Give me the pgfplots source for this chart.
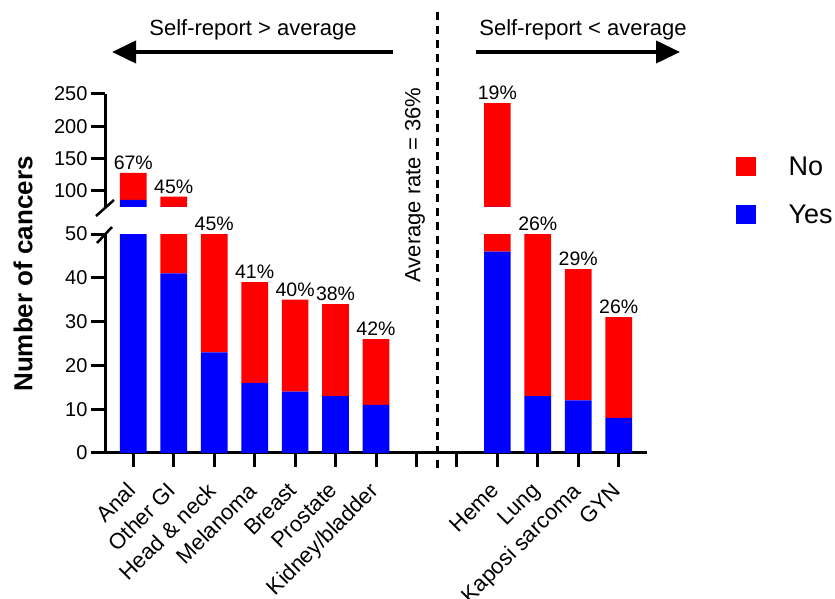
\documentclass[border=0pt]{standalone}
\usepackage{pgfplots}
\pgfplotsset{compat=1.18}
\usepackage{fontspec}
\setmainfont{Liberation Sans}
\usetikzlibrary{arrows.meta}

\newcommand\fs[1]{\fontsize{#1}{#1}\selectfont}

% shared look of the two halves of the broken axis
\pgfplotsset{
  brk/.style={
    scale only axis, width=542pt, xmin=-0.7, xmax=12.7,
    anchor=south west,
    ybar stacked, bar width=0.66,
    axis line style={-, line width=3pt},
    tick style={line width=3pt, black},
    tick align=outside, major tick length=14pt,
    ticklabel style={font=\fs{20}},
    /pgf/number format/assume math mode=true,
  },
  yes/.style={fill=blue, draw=none},
  no/.style={fill=red, draw=none},
  % same frame, no stacking, only carries the percentages over the bars
  lab/.style={scale only axis, width=542pt, xmin=-0.7, xmax=12.7,
    anchor=south west, hide axis, clip=false},
  pct/.style={draw=none, mark=none, nodes near coords, point meta=explicit symbolic,
    every node near coord/.append style={font=\fs{19.5}, text=black, anchor=south, inner sep=3pt}},
}

\begin{document}
\begin{tikzpicture}

% lower part, 0 to 50
\begin{axis}[axis x line=bottom, axis y line=left, brk,
  at={(105pt,146pt)}, height=219pt,
  ymin=0, ymax=50, ytick={0,10,...,50},
  xtick={0,...,12},
  xticklabels={Anal,Other GI,Head \& neck,Melanoma,Breast,Prostate,Kidney/bladder,,,Heme,Lung,Kaposi sarcoma,GYN},
  xticklabel style={rotate=45, anchor=north east, font=\fs{22}, xshift=-12pt, yshift=-1pt}]
\addplot[yes] coordinates {(0,86) (1,41) (2,23) (3,16) (4,14) (5,13) (6,11) (9,46) (10,13) (11,12) (12,8)};
\addplot[no] coordinates {(0,42) (1,50) (2,28) (3,23) (4,21) (5,21) (6,15) (9,190) (10,37) (11,30) (12,23)};
\end{axis}
\begin{axis}[lab, at={(105pt,146pt)}, height=219pt, ymin=0, ymax=50]
\addplot[pct] coordinates {(2,50)[45\%] (3,39)[41\%] (4,35)[40\%] (5,34)[38\%] (6,26)[42\%] (10,50)[26\%] (11,42)[29\%] (12,31)[26\%]};
\end{axis}

% upper part, 75 to 250
\begin{axis}[axis x line=none, axis y line=left, brk,
  at={(105pt,392pt)}, height=113pt,
  ymin=75, ymax=250, ytick={100,150,200,250}, xtick=\empty]
\addplot[yes] coordinates {(0,86) (1,41) (9,46)};
\addplot[no] coordinates {(0,42) (1,50) (9,190)};
\end{axis}
\begin{axis}[lab, at={(105pt,392pt)}, height=113pt, ymin=75, ymax=250]
\addplot[pct] coordinates {(0,128)[67\%] (1,91)[45\%] (9,236)[19\%]};
\end{axis}

% axis break marks
\draw[line width=2.5pt] (96pt,383pt) -- (114pt,399pt);
\draw[line width=2.5pt] (97pt,356pt) -- (112pt,372pt);

% average line and annotations
\draw[line width=3pt, dash pattern=on 8pt off 6pt] (437.5pt,587pt) -- (437.5pt,129pt);
\node[rotate=90, font=\fs{22}] at (415pt,414pt) {Average rate = 36\%};
\draw[line width=4pt, -{Triangle[length=24pt,width=22pt]}] (393pt,547pt) -- (112pt,547pt);
\draw[line width=4pt, -{Triangle[length=24pt,width=22pt]}] (476pt,547pt) -- (680pt,547pt);
\node[font=\fs{22}] at (253pt,569pt) {Self-report > average};
\node[font=\fs{22}] at (583pt,569pt) {Self-report < average};

% y label
\node[rotate=90, font=\fs{26}\bfseries] at (23pt,325pt) {Number of cancers};

% legend
\fill[red] (736pt,423pt) rectangle (756pt,442pt);
\node[anchor=west, font=\fs{27}] at (785pt,433pt) {No};
\fill[blue] (736pt,375pt) rectangle (756pt,394pt);
\node[anchor=west, font=\fs{27}] at (785pt,385pt) {Yes};

\pgfresetboundingbox
\useasboundingbox (0,0) rectangle (835pt,599pt);
\end{tikzpicture}
\end{document}
